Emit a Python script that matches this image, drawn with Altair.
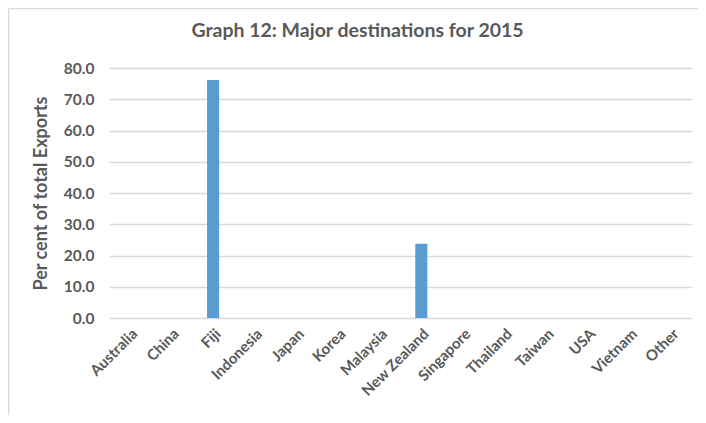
import altair as alt
import pandas as pd

countries = ["Australia", "China", "Fiji", "Indonesia", "Japan", "Korea", "Malaysia",
             "New Zealand", "Singapore", "Thailand", "Taiwan", "USA", "Vietnam", "Other"]
shares = [0.0, 0.0, 76.2, 0.0, 0.0, 0.0, 0.0, 23.8, 0.0, 0.0, 0.0, 0.0, 0.0, 0.0]
y_ticks = [0, 10, 20, 30, 40, 50, 60, 70, 80]

df = pd.DataFrame({"country": countries, "share": shares})

FONT = "Lato"
GREY = "#595959"

bars = alt.Chart(df).mark_bar(color="#5b9bd5").encode(
    x=alt.X("country:N", sort=countries, title=None,
            scale=alt.Scale(paddingInner=0.71, paddingOuter=0.355),
            axis=alt.Axis(labelAngle=-45, labelAlign="right", labelBaseline="top",
                          labelFont=FONT, labelFontSize=15, labelFontWeight="bold",
                          labelColor=GREY, ticks=False, domain=False, labelPadding=8)),
    y=alt.Y("share:Q", title="Per cent of total Exports",
            scale=alt.Scale(domain=[0, 80], nice=False),
            axis=alt.Axis(values=y_ticks, format=".1f", labelFont=FONT, labelFontSize=15.5,
                          labelFontWeight="bold", labelColor=GREY, ticks=False, domain=False,
                          labelPadding=15, titleFont=FONT, titleFontSize=18,
                          titleFontWeight="bold", titleColor=GREY, titlePadding=13,
                          gridColor="#d9d9d9", gridWidth=1.5)),
)

# light chart-area frame (left and top edges)
frame_left = alt.Chart().mark_rule(color="#d9d9d9", strokeWidth=1.5).encode(
    x=alt.value(-100.5), y=alt.value(-59.5), y2=alt.value(360))
frame_top = alt.Chart().mark_rule(color="#d9d9d9", strokeWidth=1.5).encode(
    x=alt.value(-100.5), x2=alt.value(600), y=alt.value(-59.5))

chart = alt.layer(bars, frame_left, frame_top).properties(
    width=583, height=250,
    title=alt.TitleParams("Graph 12: Major destinations for 2015", font=FONT, fontSize=19.5,
                          fontWeight="bold", color=GREY, anchor="middle", dx=-43, offset=-34),
    autosize=alt.AutoSizeParams(type="none"),
    padding={"left": 101, "top": 60, "right": 6, "bottom": 97},
).configure_view(stroke=None)

chart.save("out.html", embed_options={"renderer": "svg", "actions": False})
